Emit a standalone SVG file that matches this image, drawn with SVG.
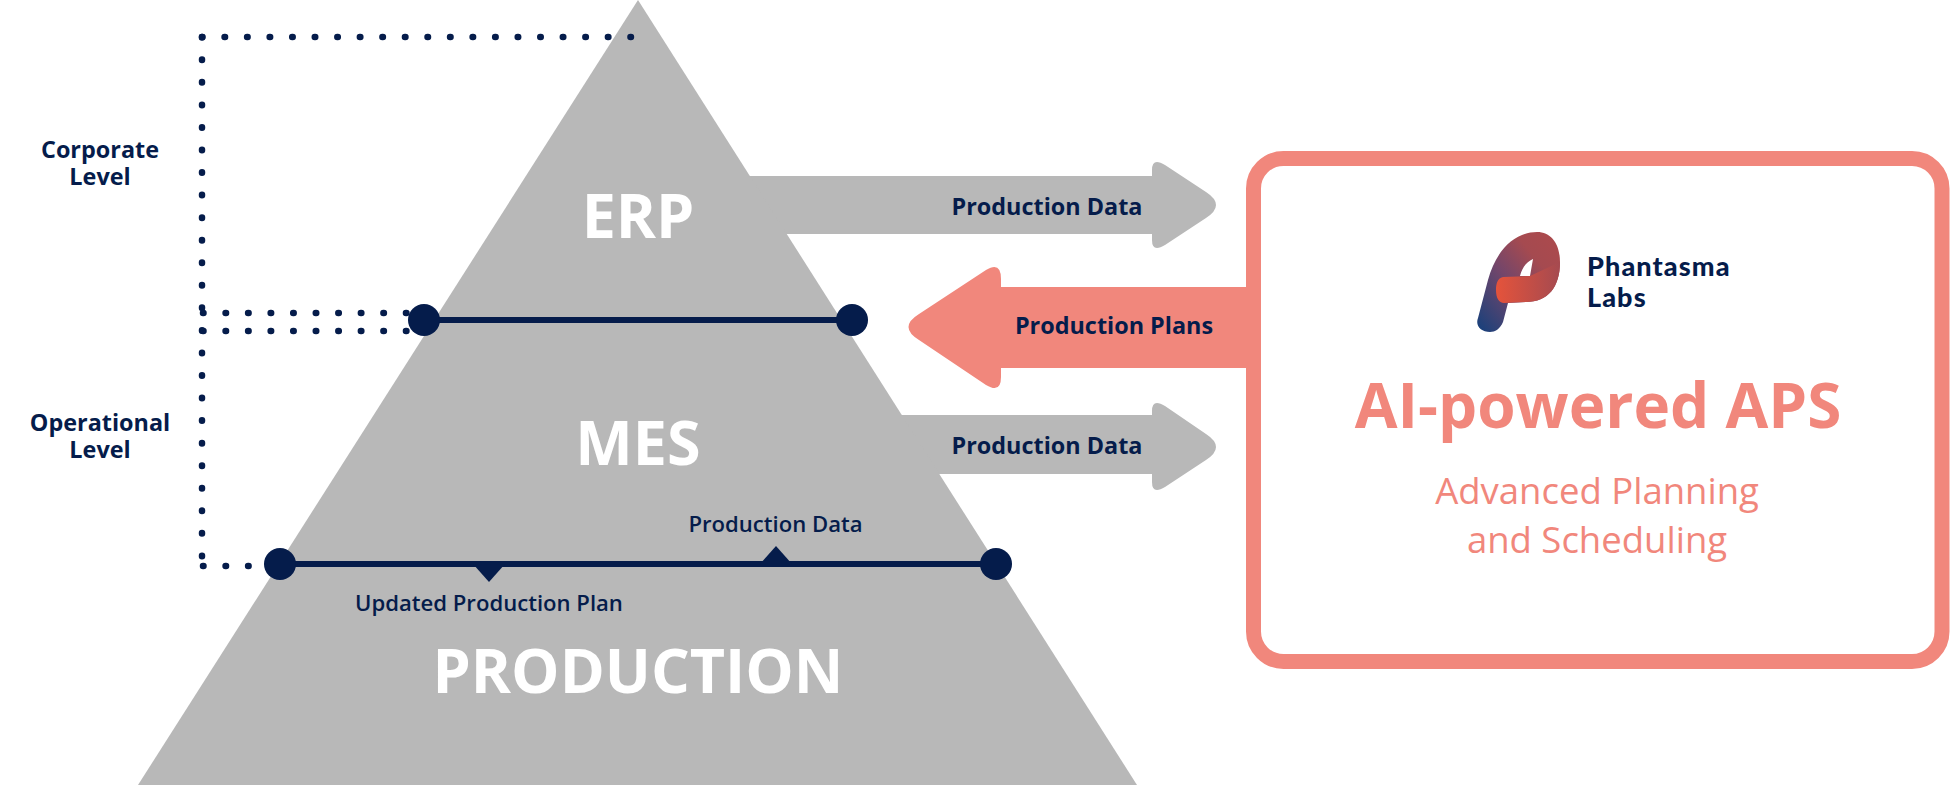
<svg xmlns="http://www.w3.org/2000/svg" width="1950" height="787" viewBox="0 0 1950 787">
<style>
text{font-family:"Open Sans","Liberation Sans",sans-serif;text-anchor:middle}
.navy{fill:#051c4b}
.b{font-weight:700}
.lab{font-size:23.4px;font-weight:700;fill:#051c4b}
.small{font-size:22.100px;font-weight:600;fill:#051c4b}
.big{font-weight:700;fill:#fff}
.logo{text-anchor:start;font-family:Lato,sans-serif;font-weight:900;font-size:27px;letter-spacing:1.1px;fill:#051c4b}
.dot{fill:none;stroke:#051c4b;stroke-width:6.500;stroke-linecap:round;stroke-dasharray:.5 22.05}
.ln{stroke:#051c4b;stroke-width:6;fill:none}
</style>
<defs>
<linearGradient id="g" x1="0" y1="1" x2="1" y2="0"><stop offset="0" stop-color="#14407c"/><stop offset=".45" stop-color="#74466a"/><stop offset=".72" stop-color="#a54a50"/><stop offset="1" stop-color="#ad4a4c"/></linearGradient>
<linearGradient id="g2" x1="0" y1="0" x2="1" y2="0"><stop offset="0" stop-color="#e5533b"/><stop offset="1" stop-color="#a54a50"/></linearGradient>
</defs>
<g id="arrow-erp"><path d="M740 176H1152V170Q1152 157 1165 165L1206 192Q1226 205 1206 218L1165 245Q1152 253 1152 240V234H780Z" fill="#b8b8b8"/><text class="lab" x="1047" y="215">Production Data</text></g>
<g id="arrow-mes"><path d="M895 415H1152V411Q1152 398 1165 406L1206 434Q1226 447 1206 460L1165 487Q1152 495 1152 482V474H935Z" fill="#b8b8b8"/><text class="lab" x="1047" y="454">Production Data</text></g>
<g id="pyramid"><path d="M638 0L1137 785H138Z" fill="#b8b8b8"/>
<text class="big" x="638" y="238" font-size="61">ERP</text>
<text class="big" x="638" y="465" font-size="61">MES</text>
<text class="big" x="638" y="693" font-size="61">PRODUCTION</text></g>
<g id="connectors">
<path class="dot" d="M202 37H632"/>
<path class="dot" d="M202 37V567"/>
<path class="dot" d="M203 313H410"/>
<path class="dot" d="M203 331H410"/>
<path class="dot" d="M203 566H258"/>
</g>
<g id="aps-box"><rect x="1253.500" y="158.500" width="688.500" height="503" rx="30" fill="#fff" stroke="#f1877c" stroke-width="15"/>
<text x="1598" y="428" font-size="62" class="b" fill="#f1877c">AI-powered APS</text>
<text x="1597" y="504" font-size="36.500" fill="#f1877c">Advanced Planning</text>
<text x="1597" y="553" font-size="36.500" fill="#f1877c">and Scheduling</text></g>
<g id="arrow-plans"><path d="M1250 287H1001V279Q1001 261 986 270L919 314Q898 327 919 340L986 385Q1001 394 1001 377V368H1250Z" fill="#f1877c"/><text class="lab" x="1114" y="334">Production Plans</text></g>
<g id="logo">
<path fill="url(#g)" fill-rule="evenodd" d="M1478 318L1488 280C1496 250 1515 232 1537 232C1552 232 1560 245 1560 262C1560 287 1548 302 1526 302L1508 303L1503 322C1500 329 1495 332 1490 332C1481 332 1475 326 1478 318ZM1520 276L1530 276L1533 259C1526 262 1522 268 1520 276Z"/>
<path fill="url(#g2)" d="M1503 277C1497 278 1496 285 1496 290C1496 298 1499 303 1504 303L1526 302C1548 302 1560 287 1560 262L1530 276Z"/>
<text class="logo" x="1587" y="276">Phantasma</text>
<text class="logo" x="1587" y="307">Labs</text>
</g>
<g id="line-erp-mes"><path class="ln" d="M424 320H852"/><circle cx="424" cy="320" r="16" class="navy"/><circle cx="852" cy="320" r="16" class="navy"/></g>
<g id="line-mes-prod"><path class="ln" d="M280 564H996"/><circle cx="280" cy="564" r="16" class="navy"/><circle cx="996" cy="564" r="16" class="navy"/>
<path class="navy" d="M473 564H505L489 582Z"/><path class="navy" d="M760 564H792L776 546Z"/>
<text class="small" x="775.500" y="532">Production Data</text>
<text class="small" x="489" y="611">Updated Production Plan</text></g>
<g id="corporate"><text class="lab" x="100" y="158">Corporate</text><text class="lab" x="100" y="185">Level</text></g>
<g id="operational"><text class="lab" x="100" y="431">Operational</text><text class="lab" x="100" y="458">Level</text></g>
</svg>
